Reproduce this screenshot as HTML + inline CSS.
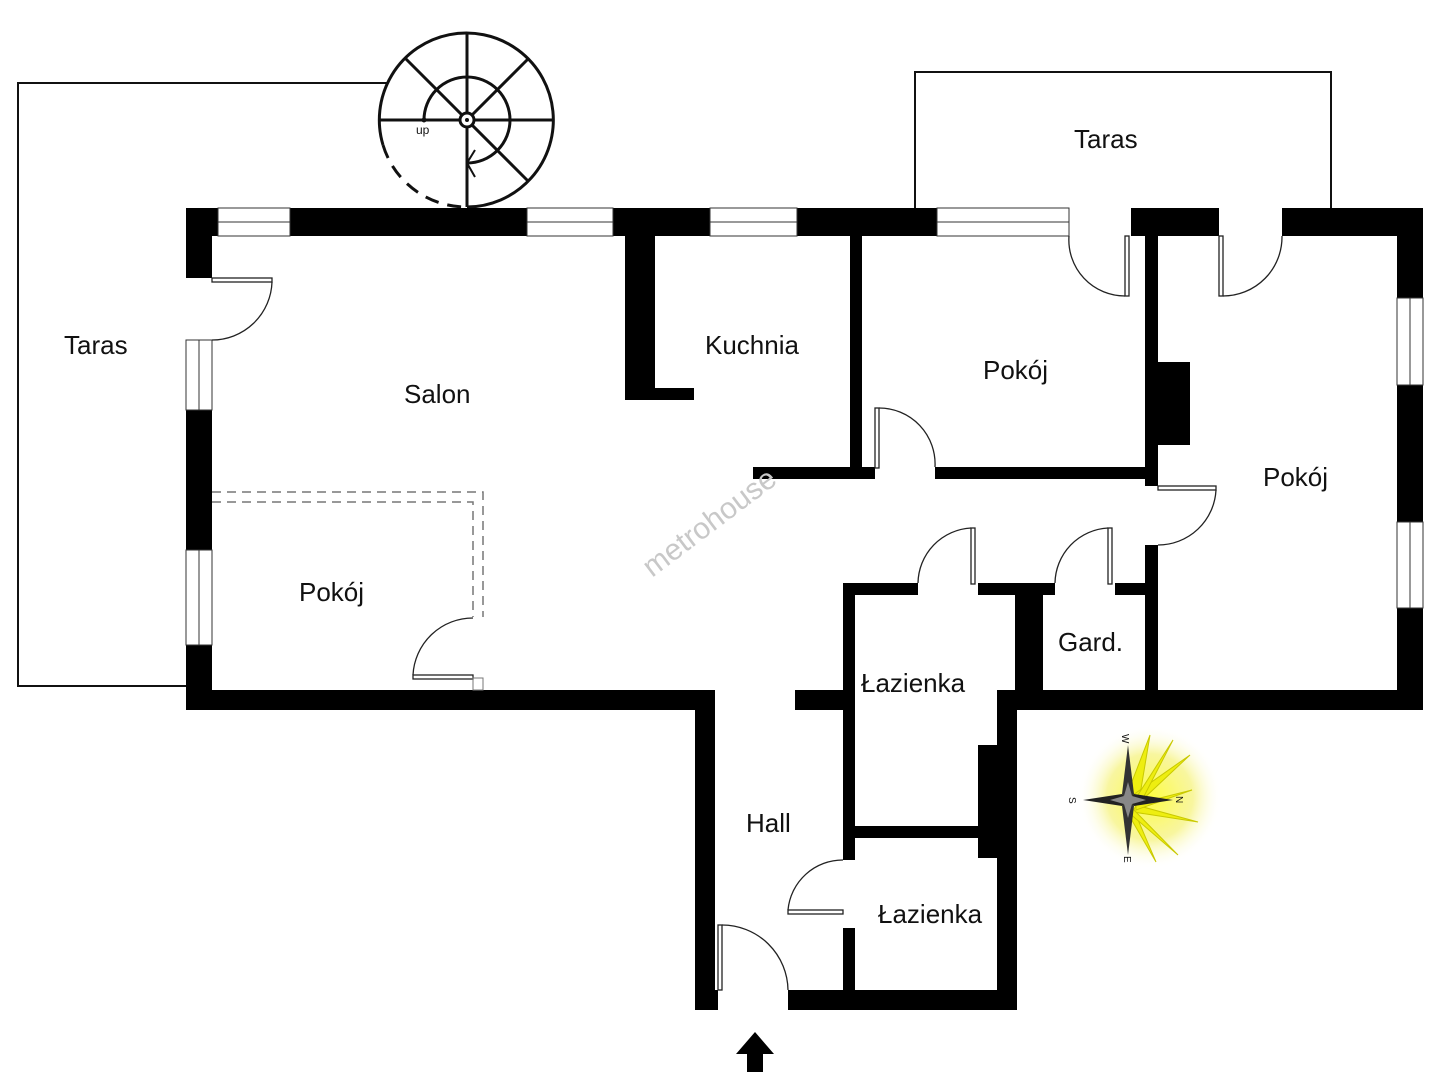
<!DOCTYPE html>
<html><head><meta charset="utf-8"><style>
html,body{margin:0;padding:0;background:#fff;}
svg{display:block;}
text{font-family:"Liberation Sans",Arial,sans-serif;fill:#111;}
</style></head><body>
<svg width="1440" height="1080" viewBox="0 0 1440 1080" xmlns="http://www.w3.org/2000/svg">
<defs>
<radialGradient id="glow" cx="50%" cy="50%" r="50%">
<stop offset="0" stop-color="#ffff40" stop-opacity="1"/>
<stop offset="0.6" stop-color="#f4f060" stop-opacity="0.6"/>
<stop offset="1" stop-color="#ffffff" stop-opacity="0"/>
</radialGradient>
</defs>
<rect width="1440" height="1080" fill="#fff"/>

<polyline points="388,83 18,83 18,686 186,686" fill="none" stroke="#111" stroke-width="2"/>
<polyline points="915,208 915,72 1331,72 1331,208" fill="none" stroke="#111" stroke-width="2"/>

<g stroke="#111" stroke-width="3" fill="none">
<path d="M 383 145 A 87 87 0 1 1 467 207"/>
<path d="M 383 145 A 87 87 0 0 0 467 207" stroke-dasharray="14,9"/>
<line x1="380" y1="120" x2="554" y2="120"/>
<line x1="467" y1="33" x2="467" y2="207"/>
<line x1="406" y1="59" x2="528" y2="181"/>
<line x1="528" y1="59" x2="467" y2="120"/>
<path d="M 424 120 A 43 43 0 1 1 467 163"/>
<polyline points="475,150 467,163 475,177" stroke-width="2"/>
</g>
<circle cx="467" cy="120" r="7" fill="#fff" stroke="#111" stroke-width="3"/>
<circle cx="467" cy="120" r="2" fill="#111"/>
<circle cx="424" cy="120" r="2.5" fill="#111"/>
<text x="416" y="134" font-size="12">up</text>

<g fill="#000">
<rect x="186" y="208" width="32" height="28"/>
<rect x="290" y="208" width="237" height="28"/>
<rect x="613" y="208" width="97" height="28"/>
<rect x="797" y="208" width="140" height="28"/>
<rect x="1131" y="208" width="88" height="28"/>
<rect x="1282" y="208" width="141" height="28"/>
<rect x="186" y="208" width="26" height="70"/>
<rect x="186" y="410" width="26" height="140"/>
<rect x="186" y="645" width="26" height="65"/>
<rect x="186" y="690" width="529" height="20"/>
<rect x="695" y="690" width="20" height="320"/>
<rect x="695" y="990" width="23" height="20"/>
<rect x="788" y="990" width="229" height="20"/>
<rect x="997" y="690" width="20" height="320"/>
<rect x="997" y="690" width="426" height="20"/>
<rect x="1397" y="208" width="26" height="90"/>
<rect x="1397" y="385" width="26" height="137"/>
<rect x="1397" y="608" width="26" height="102"/>
<rect x="625" y="236" width="30" height="164"/>
<rect x="625" y="388" width="69" height="12"/>
<rect x="850" y="236" width="12" height="242"/>
<rect x="753" y="467" width="122" height="12"/>
<rect x="935" y="467" width="223" height="12"/>
<rect x="1145" y="236" width="13" height="250"/>
<rect x="1145" y="545" width="13" height="165"/>
<rect x="1158" y="362" width="32" height="83"/>
<rect x="843" y="583" width="75" height="12"/>
<rect x="978" y="583" width="77" height="12"/>
<rect x="1115" y="583" width="33" height="12"/>
<rect x="843" y="583" width="12" height="277"/>
<rect x="843" y="928" width="12" height="72"/>
<rect x="795" y="690" width="50" height="20"/>
<rect x="1015" y="595" width="28" height="100"/>
<rect x="855" y="826" width="125" height="12"/>
<rect x="978" y="745" width="22" height="113"/>
</g>

<g fill="#fff" stroke="#333" stroke-width="1">
<rect x="218" y="208" width="72" height="28"/><line x1="218" y1="222" x2="290" y2="222"/>
<rect x="527" y="208" width="86" height="28"/><line x1="527" y1="222" x2="613" y2="222"/>
<rect x="710" y="208" width="87" height="28"/><line x1="710" y1="222" x2="797" y2="222"/>
<rect x="937" y="208" width="132" height="28"/><line x1="937" y1="222" x2="1069" y2="222"/>
<rect x="186" y="340" width="26" height="70"/><line x1="199" y1="340" x2="199" y2="410"/>
<rect x="186" y="550" width="26" height="95"/><line x1="199" y1="550" x2="199" y2="645"/>
<rect x="1397" y="298" width="26" height="87"/><line x1="1410" y1="298" x2="1410" y2="385"/>
<rect x="1397" y="522" width="26" height="86"/><line x1="1410" y1="522" x2="1410" y2="608"/>
</g>

<g fill="none" stroke="#222" stroke-width="1.3">
<rect x="212" y="278" width="60" height="4"/><path d="M 272 282 A 60 60 0 0 1 212 340"/>
<rect x="1125" y="236" width="4" height="60"/><path d="M 1125 296 A 56 56 0 0 1 1069 236"/>
<rect x="1219" y="236" width="4" height="60"/><path d="M 1223 296 A 59 59 0 0 0 1282 236"/>
<rect x="875" y="408" width="4" height="60"/><path d="M 879 408 A 56 56 0 0 1 935 467"/>
<rect x="1158" y="486" width="58" height="4"/><path d="M 1216 490 A 58 58 0 0 1 1158 545"/>
<rect x="971" y="528" width="4" height="56"/><path d="M 971 528 A 56 56 0 0 0 918 583"/>
<rect x="1108" y="528" width="4" height="56"/><path d="M 1108 528 A 56 56 0 0 0 1055 583"/>
<rect x="413" y="675" width="60" height="4"/><path d="M 413 675 A 60 60 0 0 1 473 618"/>
<rect x="788" y="910" width="55" height="4"/><path d="M 788 910 A 55 55 0 0 1 843 860"/>
<rect x="718" y="925" width="4" height="65"/><path d="M 722 925 A 66 66 0 0 1 788 990"/>
</g>

<g fill="none" stroke="#777" stroke-width="1.5" stroke-dasharray="9,6">
<polyline points="212,492 483,492 483,617"/>
<polyline points="212,502 473,502 473,617"/>
</g>
<rect x="473" y="678" width="10" height="12" fill="none" stroke="#777" stroke-width="1"/>

<text x="0" y="0" font-size="30" style="fill:#c8c8c8" transform="translate(652,578) rotate(-37)">metrohouse</text>

<g font-size="26">
<text x="64" y="354">Taras</text>
<text x="1074" y="148">Taras</text>
<text x="404" y="403">Salon</text>
<text x="705" y="354">Kuchnia</text>
<text x="983" y="379">Pokój</text>
<text x="1263" y="486">Pokój</text>
<text x="299" y="601">Pokój</text>
<text x="1058" y="651">Gard.</text>
<text x="861" y="692">Łazienka</text>
<text x="878" y="923">Łazienka</text>
<text x="746" y="832">Hall</text>
</g>

<polygon points="755,1032 736,1054 747,1054 747,1072 763,1072 763,1054 774,1054" fill="#000"/>

<g transform="translate(1128,800)">
<circle cx="22" cy="-3" r="72" fill="url(#glow)"/>
<g fill="#eeee10" stroke="#c9c900" stroke-width="1">
<polygon points="0,-8 22,-65 12,-5"/><polygon points="5,-5 62,-45 12,2"/><polygon points="8,5 70,22 5,12"/>
<polygon points="5,8 28,62 -2,10"/><polygon points="8,-2 45,-60 14,0"/><polygon points="8,4 64,-10 8,10"/>
<polygon points="4,8 50,55 0,12"/>
</g>
<polygon points="0,-55 6,-6 0,0 -6,-6" fill="#333"/>
<polygon points="0,55 6,6 0,0 -6,6" fill="#333"/>
<polygon points="-45,0 -6,-6 0,0 -6,6" fill="#222"/>
<polygon points="45,0 6,-6 0,0 6,6" fill="#222"/>
<polygon points="0,-18 4,-4 18,0 4,4 0,18 -4,4 -18,0 -4,-4" fill="#888"/>
<text x="-6" y="-58" font-size="10" transform="rotate(90 -2 -62)">W</text>
<text x="-58" y="4" font-size="10" transform="rotate(90 -55 0)">S</text>
<text x="48" y="4" font-size="10" transform="rotate(90 52 0)">N</text>
<text x="-4" y="64" font-size="10" transform="rotate(90 0 60)">E</text>
</g>
</svg>
</body></html>
